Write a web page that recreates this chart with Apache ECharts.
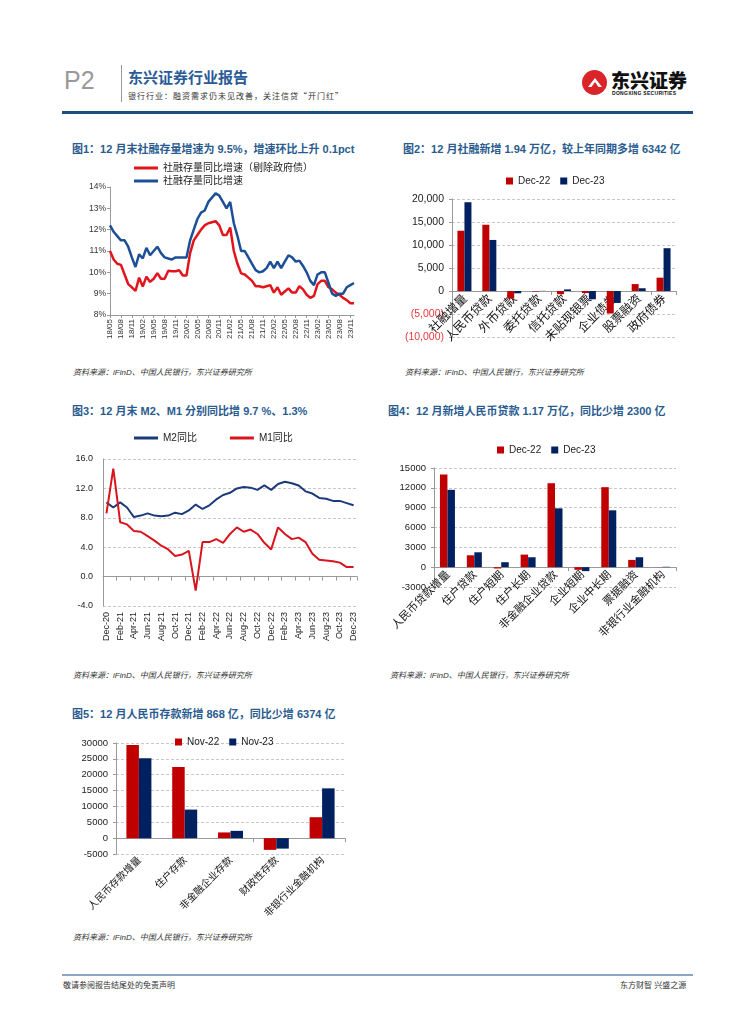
<!DOCTYPE html>
<html><head><meta charset="utf-8">
<script src="https://cdn.jsdelivr.net/npm/echarts/dist/echarts.min.js"></script>
<style>
body{margin:0;width:755px;height:1024px;position:relative;background:#fff;font-family:"Liberation Sans","Noto Sans CJK SC",sans-serif;overflow:hidden}
.t{position:absolute;white-space:nowrap}
.title{position:absolute;font-size:11px;font-weight:bold;color:#2a5b8f;white-space:nowrap;font-family:"Liberation Sans","Noto Sans CJK SC",sans-serif}
.src{position:absolute;font-size:8px;font-style:italic;color:#333;white-space:nowrap}
.ch{position:absolute}
</style></head>
<body>
<!-- header -->
<div class="t" style="left:64px;top:66px;font-size:25px;color:#999;font-weight:300">P2</div>
<div class="t" style="left:121px;top:65px;width:1px;height:37px;background:#999"></div>
<div class="t" style="left:128px;top:66px;font-size:15px;font-weight:bold;color:#2a5b96;font-family:'Noto Sans CJK SC'">东兴证券行业报告</div>
<div class="t" style="left:128px;top:90px;font-size:8px;color:#333;letter-spacing:1px;font-family:'Noto Sans CJK SC'">银行行业：融资需求仍未见改善，关注信贷“开门红”</div>
<div class="t" style="left:62px;top:111px;width:631px;height:3px;background:#1f4e7d"></div>
<div class="t" style="left:582px;top:70px;width:25px;height:25px;border-radius:50%;background:#d9252a"></div>
<div class="t" style="left:588px;top:78px;width:14px;height:9px;background:#fff;clip-path:polygon(0 100%,50% 0,100% 100%,75% 100%,50% 45%,25% 100%)"></div>
<div class="t" style="left:611px;top:66px;font-size:19px;font-weight:900;color:#111;font-family:'Noto Sans CJK SC'">东兴证券</div>
<div class="t" style="left:612px;top:90px;font-size:5px;font-weight:bold;color:#111;letter-spacing:0.3px">DONGXING SECURITIES</div>
<!-- titles -->
<div class="title" style="left:72px;top:140px">图1：12 月末社融存量增速为 9.5%，增速环比上升 0.1pct</div>
<div class="title" style="left:403px;top:140px">图2：12 月社融新增 1.94 万亿，较上年同期多增 6342 亿</div>
<div class="title" style="left:72px;top:402px">图3：12 月末 M2、M1 分别同比增 9.7 %、1.3%</div>
<div class="title" style="left:388px;top:402px">图4：12 月新增人民币贷款 1.17 万亿，同比少增 2300 亿</div>
<div class="title" style="left:72px;top:705px">图5：12 月人民币存款新增 868 亿，同比少增 6374 亿</div>
<!-- sources -->
<div class="src" style="left:73px;top:366px">资料来源：iFinD、中国人民银行，东兴证券研究所</div>
<div class="src" style="left:405px;top:366px">资料来源：iFinD、中国人民银行，东兴证券研究所</div>
<div class="src" style="left:73px;top:669px">资料来源：iFinD、中国人民银行，东兴证券研究所</div>
<div class="src" style="left:390px;top:669px">资料来源：iFinD、中国人民银行，东兴证券研究所</div>
<div class="src" style="left:73px;top:931px">资料来源：iFinD、中国人民银行，东兴证券研究所</div>
<!-- footer -->
<div class="t" style="left:62px;top:974px;width:631px;height:2px;background:#8aa6c4"></div>
<div class="t" style="left:63px;top:979px;font-size:8px;color:#333">敬请参阅报告结尾处的免责声明</div>
<div class="t" style="left:620px;top:979px;font-size:8px;color:#333">东方财智 兴盛之源</div>

<div id="c1" class="ch" style="left:70px;top:155px;width:300px;height:210px"></div>
<div id="c2" class="ch" style="left:385px;top:160px;width:330px;height:205px"></div>
<div id="c3" class="ch" style="left:70px;top:420px;width:300px;height:245px"></div>
<div id="c4" class="ch" style="left:385px;top:430px;width:330px;height:235px"></div>
<div id="c5" class="ch" style="left:70px;top:725px;width:300px;height:200px"></div>

<script>
// ---------- Chart 1 data ----------
const c1Months = ['18/05','18/06','18/07','18/08','18/09','18/10','18/11','18/12',
'19/01','19/02','19/03','19/04','19/05','19/06','19/07','19/08','19/09','19/10','19/11','19/12',
'20/01','20/02','20/03','20/04','20/05','20/06','20/07','20/08','20/09','20/10','20/11','20/12',
'21/01','21/02','21/03','21/04','21/05','21/06','21/07','21/08','21/09','21/10','21/11','21/12',
'22/01','22/02','22/03','22/04','22/05','22/06','22/07','22/08','22/09','22/10','22/11','22/12',
'23/01','23/02','23/03','23/04','23/05','23/06','23/07','23/08','23/09','23/10','23/11','23/12'];
const c1ExGov = [11.0,10.6,10.4,10.35,9.9,9.45,9.3,9.13,
9.75,9.33,9.8,9.55,9.7,9.96,9.7,9.7,10.07,10.05,10.05,10.1,
9.85,9.85,10.9,11.5,11.75,12.0,12.2,12.3,12.35,12.4,12.2,11.75,
11.75,12.1,11.0,10.4,9.95,9.9,9.75,9.6,9.35,9.35,9.3,9.35,
9.4,9.05,9.3,8.95,9.1,9.25,9.05,9.05,9.35,9.2,8.95,8.8,
8.9,9.45,9.6,9.6,9.3,9.2,9.05,8.95,8.8,8.7,8.55,8.55];
const c1Total = [12.2,11.9,11.7,11.5,11.5,11.2,10.7,10.25,
10.85,10.65,11.15,10.8,11.0,11.2,10.9,10.7,10.65,10.6,10.7,10.7,
10.7,10.7,11.5,12.0,12.5,12.8,12.9,13.3,13.5,13.7,13.6,13.3,
13.0,13.3,12.3,11.7,11.0,11.0,10.7,10.4,10.1,10.0,10.05,10.2,
10.5,10.2,10.5,10.2,10.5,10.8,10.7,10.5,10.55,10.3,10.0,9.6,
9.4,9.9,10.0,10.0,9.5,9.0,8.9,9.0,9.0,9.3,9.4,9.5];
const c1Names = ['社融存量同比增速（剔除政府债）','社融存量同比增速'];
const c1YTicks = {min:8,max:14,interval:1};

// ---------- Chart 2 data ----------
const c2Cats = ['社融增量','人民币贷款','外币贷款','委托贷款','信托贷款','未贴现银票','企业债券','股票融资','政府债券'];
const c2Dec22 = [13100,14400,-1650,-100,-700,-450,-4900,1500,2900];
const c2Dec23 = [19300,11100,-500,30,350,-1800,-2600,600,9300];
const c2Names = ['Dec-22','Dec-23'];

// ---------- Chart 3 data ----------
const c3Months = ['Dec-20','Jan-21','Feb-21','Mar-21','Apr-21','May-21','Jun-21','Jul-21','Aug-21','Sep-21','Oct-21','Nov-21',
'Dec-21','Jan-22','Feb-22','Mar-22','Apr-22','May-22','Jun-22','Jul-22','Aug-22','Sep-22','Oct-22','Nov-22',
'Dec-22','Jan-23','Feb-23','Mar-23','Apr-23','May-23','Jun-23','Jul-23','Aug-23','Sep-23','Oct-23','Nov-23','Dec-23'];
const c3M2 = [10.1,9.4,10.1,9.4,8.1,8.3,8.6,8.3,8.2,8.3,8.7,8.5,9.0,9.8,9.2,9.7,10.5,11.1,11.4,12.0,12.2,12.1,11.8,12.4,11.8,12.6,12.9,12.7,12.4,11.6,11.3,10.7,10.6,10.3,10.3,10.0,9.7];
const c3M1 = [8.6,14.7,7.4,7.1,6.2,6.1,5.5,4.9,4.2,3.7,2.8,3.0,3.5,-1.9,4.7,4.7,5.1,4.6,5.8,6.7,6.1,6.4,5.8,4.6,3.7,6.7,5.8,5.1,5.3,4.7,3.1,2.3,2.2,2.1,1.9,1.3,1.3];
const c3Names = ['M2同比','M1同比'];

// ---------- Chart 4 data ----------
const c4Cats = ['人民币贷款增量','住户贷款','住户短期','住户长期','非金融企业贷款','企业短期','企业中长期','票据融资','非银行业金融机构'];
const c4Dec22 = [14000,1800,-200,1900,12700,-400,12100,1100,-20];
const c4Dec23 = [11700,2250,750,1500,8900,-600,8600,1500,60];
const c4Names = ['Dec-22','Dec-23'];

// ---------- Chart 5 data ----------
const c5Cats = ['人民币存款增量','住户存款','非金融企业存款','财政性存款','非银行业金融机构'];
const c5Nov22 = [29400,22400,1800,-3700,6600];
const c5Nov23 = [25200,9000,2300,-3300,15700];
const c5Names = ['Nov-22','Nov-23'];

const RED = '#c00000', NAVY = '#002060';
const FONT = '"Liberation Sans","Noto Sans CJK SC",sans-serif';
const GRID_LINE = {show:true,lineStyle:{color:'#c8c8c8',type:[3,2],width:1}};
const AX_LINE = {show:true,lineStyle:{color:'#999',width:1}};

function G(g){ return Object.assign({containLabel:false,outerBoundsMode:'none'},g); }

// Chart 1
echarts.init(document.getElementById('c1')).setOption({
  animation:false,
  textStyle:{fontFamily:FONT},
  legend:{orient:'vertical',left:59,top:3,itemWidth:24,itemHeight:3,itemGap:3,
    textStyle:{fontSize:10,color:'#222',fontFamily:FONT},
    icon:'rect',data:c1Names},
  grid:G({left:40,right:16,top:32,height:128}),
  xAxis:{type:'category',data:c1Months,boundaryGap:false,
    axisLine:AX_LINE,axisTick:{show:true,interval:2,length:3,lineStyle:{color:'#999'}},
    axisLabel:{interval:2,rotate:90,fontSize:8,color:'#333',margin:4}},
  yAxis:{type:'value',min:c1YTicks.min,max:c1YTicks.max,interval:c1YTicks.interval,
    axisLine:AX_LINE,axisTick:{show:true,length:3,lineStyle:{color:'#999'}},splitLine:{show:false},
    axisLabel:{formatter:'{value}%',fontSize:8.5,color:'#333',margin:4}},
  series:[
    {name:c1Names[0],type:'line',data:c1ExGov,symbol:'none',lineStyle:{color:'#e3141c',width:2.5},itemStyle:{color:'#e3141c'}},
    {name:c1Names[1],type:'line',data:c1Total,symbol:'none',lineStyle:{color:'#1c4f96',width:2.5},itemStyle:{color:'#1c4f96'}}
  ]
});

function fmtComma(v){ return String(Math.abs(v)).replace(/\B(?=(\d{3})+(?!\d))/g, ','); }

function barOption(cfg){
  // offset that lifts the label axis from the grid bottom up to the value-axis zero
  const zeroOffset = cfg.labelsBottom ? 0 : -(0 - cfg.min) / (cfg.max - cfg.min) * cfg.grid.height;
  const lab = {rotate:45,interval:0,fontSize:cfg.xFont,color:'#111',margin:cfg.xMargin||6,
    fontFamily:'"Noto Sans CJK SC",sans-serif',hideOverlap:false};
  return {
    animation:false,
    textStyle:{fontFamily:FONT},
    legend:{left:cfg.legendLeft,top:cfg.legendTop,itemWidth:7,itemHeight:7,itemGap:cfg.legendGap||10,icon:'rect',
      textStyle:{fontSize:10,color:'#222',fontFamily:FONT},data:cfg.names},
    grid:G(cfg.grid),
    xAxis:[
      {type:'category',data:cfg.cats,position:'bottom',offset:zeroOffset,
        axisLine:{show:false,onZero:false},axisTick:{show:false},axisLabel:lab},
      {type:'category',data:cfg.cats,position:'bottom',axisLine:Object.assign({onZero:true},AX_LINE),
        axisTick:{show:true,length:4,lineStyle:{color:'#999'}},axisLabel:{show:false}}
    ],
    yAxis:{type:'value',min:cfg.min,max:cfg.max,interval:cfg.interval,
      axisLine:AX_LINE,axisTick:{show:true,length:3,lineStyle:{color:'#999'}},splitLine:GRID_LINE,
      axisLabel:Object.assign({fontSize:cfg.yFont,color:'#222',margin:cfg.yMargin||6,showMinLabel:true,showMaxLabel:true,
        hideOverlap:false,formatter:function(v){return String(v);}},cfg.yLabel||{})},
    series:[
      {name:cfg.names[0],type:'bar',data:cfg.s1,barWidth:cfg.barWidth,barGap:'0%',itemStyle:{color:RED},xAxisIndex:0},
      {name:cfg.names[1],type:'bar',data:cfg.s2,barWidth:cfg.barWidth,barGap:'0%',itemStyle:{color:NAVY},xAxisIndex:0}
    ]
  };
}

// Chart 2
echarts.init(document.getElementById('c2')).setOption(barOption({
  cats:c2Cats,s1:c2Dec22,s2:c2Dec23,names:c2Names,
  legendLeft:116,legendTop:11,
  grid:{left:67,right:39,top:39,height:138},
  min:-10000,max:20000,interval:5000,yFont:10.5,yMargin:8,
  yLabel:{formatter:function(v){return v<0?'{n|('+fmtComma(v)+')}':fmtComma(v);},rich:{n:{color:'#e8383d',fontSize:10.5}}},
  barWidth:7,xFont:12,xMargin:5
}));

// Chart 3
echarts.init(document.getElementById('c3')).setOption({
  animation:false,
  textStyle:{fontFamily:FONT},
  legend:{left:59,top:8,itemWidth:24,itemHeight:3,itemGap:33,icon:'rect',
    textStyle:{fontSize:10,color:'#222',fontFamily:FONT},data:c3Names},
  grid:G({left:33,right:13,top:39,height:147}),
  xAxis:[
    {type:'category',data:c3Months,position:'bottom',axisLine:{show:false,onZero:false},axisTick:{show:false},
      axisLabel:{interval:1,rotate:90,fontSize:9,color:'#222',margin:6}},
    {type:'category',data:c3Months,position:'bottom',axisLine:Object.assign({onZero:true},AX_LINE),
      axisTick:{show:true,interval:1,length:4,lineStyle:{color:'#999'}},axisLabel:{show:false}}
  ],
  yAxis:{type:'value',min:-4,max:16,interval:4,axisLine:AX_LINE,axisTick:{show:false},splitLine:GRID_LINE,
    axisLabel:{formatter:function(v){return v.toFixed(1);},fontSize:9,color:'#222',margin:10,showMinLabel:true}},
  series:[
    {name:c3Names[0],type:'line',data:c3M2,symbol:'none',lineStyle:{color:'#1b3a7c',width:2},itemStyle:{color:'#1b3a7c'}},
    {name:c3Names[1],type:'line',data:c3M1,symbol:'none',lineStyle:{color:'#d8141c',width:2},itemStyle:{color:'#d8141c'}}
  ]
});

// Chart 4
echarts.init(document.getElementById('c4')).setOption(barOption({
  cats:c4Cats,s1:c4Dec22,s2:c4Dec23,names:c4Names,
  legendLeft:107,legendTop:10,
  grid:{left:49,right:39,top:38,height:119},
  min:-3000,max:15000,interval:3000,yFont:9.5,yMargin:8,
  barWidth:7.5,xFont:11,xMargin:5
}));

// Chart 5
echarts.init(document.getElementById('c5')).setOption(barOption({
  cats:c5Cats,s1:c5Nov22,s2:c5Nov23,names:c5Names,
  legendLeft:100,legendTop:7,
  grid:{left:46,right:25,top:18,height:111},
  min:-5000,max:30000,interval:5000,yFont:9.5,yMargin:8,
  barWidth:12.5,xFont:10,xMargin:4,labelsBottom:true
}));
</script>
</body></html>
